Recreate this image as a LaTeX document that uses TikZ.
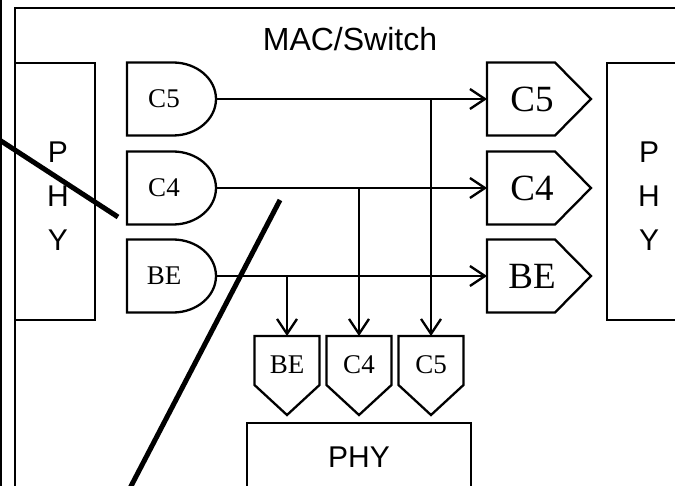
\documentclass[tikz,border=0pt]{standalone}
\usepackage{fontspec}
\setmainfont{Liberation Serif}
\newfontfamily\arialf{Liberation Sans}
\usetikzlibrary{arrows.meta}
\tikzset{
  ln/.style={line width=2.3pt, line join=miter},
  conn/.style={line width=2.3pt, -{Straight Barb[length=15pt,width=20pt,line width=2.3pt]}},
  bar/.style={line width=5pt},
  sans/.style={font=\arialf\fontsize{30}{44}\selectfont, align=center, inner sep=0pt},
  small/.style={font=\fontsize{27}{28}\selectfont, inner sep=0pt},
  big/.style={font=\fontsize{37}{38}\selectfont, inner sep=0pt},
}
\begin{document}
\begin{tikzpicture}[x=1pt,y=-1pt]
\useasboundingbox (0,0) rectangle (675,486);
\clip (0,0) rectangle (675,486);
\fill[white] (0,0) rectangle (675,486);
% outer lines
\draw[line width=2.5pt] (1,-5) -- (1,495);
\draw[ln] (15,500) -- (15,8) -- (690,8);
\node[sans, font=\arialf\fontsize{32}{40}\selectfont] (mac) at (350,39) {MAC/Switch};
% side PHY boxes
\draw[ln] (15,63) rectangle (95,320);
\node[sans] (phyl) at (58,196) {P\\H\\Y};
\draw[ln] (690,63) -- (607,63) -- (607,320) -- (690,320);
\node[sans] (phyr) at (649,196) {P\\H\\Y};
% bottom PHY
\draw[ln] (247,500) -- (247,423) -- (471,423) -- (471,500);
\node[sans] (phyb) at (359,457) {PHY};
% input gates
\foreach \n/\y in {C5/99, C4/188, BE/276}{
  \draw[ln] (127,\y-36.5) -- (173,\y-36.5) arc[start angle=90, end angle=-90, x radius=43, y radius=-36.5] -- (127,\y+36.5) -- cycle;
  \node[small] (in\n) at (164,\y) {\n};
  \coordinate (out\n) at (216,\y);
  \draw[ln] (487,\y-36.5) -- (555,\y-36.5) -- (591,\y) -- (555,\y+36.5) -- (487,\y+36.5) -- cycle;
  \node[big] (r\n) at (532,\y) {\n};
  \coordinate (rin\n) at (487,\y);
}
% bottom queues
\foreach \n/\x in {BE/287, C4/359, C5/431}{
  \draw[ln] (\x-32.5,336) -- (\x+32.5,336) -- (\x+32.5,385) -- (\x,415) -- (\x-32.5,385) -- cycle;
  \node[small] (b\n) at (\x,365) {\n};
  \coordinate (bin\n) at (\x,336);
}
\coordinate (jBE) at (287,276);
\coordinate (jC4) at (359,188);
\coordinate (jC5) at (431,99);
% connectors
\foreach \n in {C5,C4,BE}{
  \draw[conn] (out\n) -- (rin\n);
  \draw[conn] (j\n) -- (bin\n);
}
% diagonal bars
\coordinate (d1a) at (-2,139);
\coordinate (d1b) at (118,217);
\coordinate (d2a) at (280,200);
\coordinate (d2b) at (129,490);
\draw[bar] (d1a) -- (d1b);
\draw[bar] (d2a) -- (d2b);
\end{tikzpicture}
\end{document}
